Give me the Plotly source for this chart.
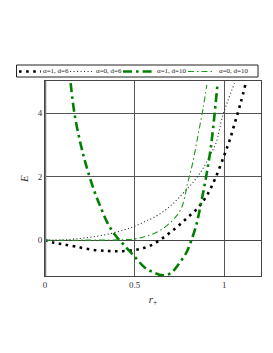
import plotly.graph_objects as go

# alpha=1, d=6
r_a1d6 = [0, 0.05, 0.1, 0.17, 0.26, 0.35, 0.42, 0.5, 0.55, 0.6, 0.65, 0.7, 0.75, 0.8, 0.85, 0.9, 0.95, 1.0, 1.03, 1.06, 1.09, 1.12]
E_a1d6 = [0, -0.08, -0.13, -0.2, -0.3, -0.34, -0.35, -0.31, -0.25, -0.14, 0.04, 0.25, 0.48, 0.74, 1.0, 1.38, 1.95, 2.68, 3.15, 3.72, 4.3, 4.95]
# alpha=0, d=6
r_a0d6 = [0, 0.1, 0.17, 0.26, 0.35, 0.44, 0.5, 0.56, 0.63, 0.7, 0.76, 0.83, 0.88, 0.92, 0.955, 0.99, 1.02, 1.057]
E_a0d6 = [0, 0.01, 0.04, 0.1, 0.19, 0.32, 0.44, 0.59, 0.79, 1.08, 1.42, 1.85, 2.25, 2.67, 3.08, 3.9, 4.4, 4.95]
# alpha=1, d=10
r_a1d10 = [0.143, 0.165, 0.2, 0.23, 0.277, 0.31, 0.35, 0.39, 0.44, 0.5, 0.556, 0.61, 0.657, 0.704, 0.75, 0.788, 0.807, 0.844, 0.872, 0.9, 0.924, 0.943, 0.962]
E_a1d10 = [4.95, 3.97, 3.0, 2.35, 1.52, 1.05, 0.53, 0.17, -0.15, -0.52, -0.86, -1.03, -1.11, -1.03, -0.72, -0.4, -0.15, 0.48, 1.21, 2.04, 2.88, 3.81, 4.9]
# alpha=0, d=10
r_a0d10 = [0, 0.2, 0.41, 0.5, 0.556, 0.63, 0.704, 0.76, 0.797, 0.825, 0.853, 0.881, 0.903]
E_a0d10 = [0, 0.0, 0.01, 0.04, 0.11, 0.27, 0.58, 1.0, 1.83, 2.46, 3.29, 4.13, 4.9]

names = ["α=1, d=6", "α=0, d=6", "α=1, d=10", "α=0, d=10"]
xs = [r_a1d6, r_a0d6, r_a1d10, r_a0d10]
ys = [E_a1d6, E_a0d6, E_a1d10, E_a0d10]
styles = [
    dict(color="#000000", width=2.6, dash="2.6px,4.5px"),
    dict(color="#333333", width=1.1, dash="1.1px,2.4px"),
    dict(color="#008000", width=2.6, dash="9px,4px,2.6px,4px"),
    dict(color="#1a9a1a", width=1.1, dash="6px,3px,1.5px,3px"),
]

W, H = 273, 353
L, R, T, B = 37, 20, 73, 85
pw, ph = W - L - R, H - T - B

def px(x):
    return (x - L) / pw

def py(y):
    return (H - B - y) / ph

fig = go.Figure()
for n, x, y, s in zip(names, xs, ys, styles):
    fig.add_trace(go.Scatter(x=x, y=y, mode="lines", name=n, showlegend=False,
                             line=dict(shape="spline", **s)))

# manual legend (single boxed row above the plot)
fig.add_shape(type="rect", xref="paper", yref="paper",
              x0=px(8.5), x1=px(250), y0=py(69), y1=py(57),
              line=dict(color="#222222", width=1), fillcolor="white")
sym_x = [(11, 33), (62, 86), (115, 146), (180, 207)]
txt_x = [35, 88, 149, 211]
for (a, b), tx, n, s in zip(sym_x, txt_x, names, styles):
    fig.add_shape(type="line", xref="paper", yref="paper",
                  x0=px(a), x1=px(b), y0=py(63.5), y1=py(63.5),
                  line=dict(color=s["color"], width=s["width"], dash=s["dash"]))
    fig.add_annotation(xref="paper", yref="paper", x=px(tx), y=py(63.5),
                       text=n, showarrow=False, xanchor="left", yanchor="middle",
                       xshift=-2, font=dict(size=7, color="#222222"))

fig.update_layout(
    width=W, height=H,
    margin=dict(l=L, r=R, t=T, b=B, autoexpand=False),
    paper_bgcolor="white", plot_bgcolor="white",
    font=dict(family="Liberation Serif, Times New Roman, serif", size=9, color="#333333"),
    showlegend=False,
)

fig.update_xaxes(range=[0, 1.205], tickvals=[0, 0.5, 1], ticktext=["0", "0.5", "1"],
                 showgrid=True, gridcolor="#555555", gridwidth=1,
                 zeroline=False, showline=True, linecolor="#444444", linewidth=1, mirror=True,
                 ticks="", title=dict(text="<i>r</i><sub>+</sub>", standoff=6, font=dict(size=11)))
fig.update_yaxes(range=[-1.13, 5.02], tickvals=[0, 2, 4],
                 showgrid=True, gridcolor="#555555", gridwidth=1,
                 zeroline=True, zerolinecolor="#444444", zerolinewidth=1,
                 showline=True, linecolor="#444444", linewidth=1, mirror=True,
                 ticks="", title=dict(text="<i>E</i>", standoff=6, font=dict(size=11)))
fig.add_shape(type="line", xref="x", yref="paper", x0=0, x1=0, y0=0, y1=1,
              line=dict(color="#777777", width=2.5))

fig.write_html("out.html")
